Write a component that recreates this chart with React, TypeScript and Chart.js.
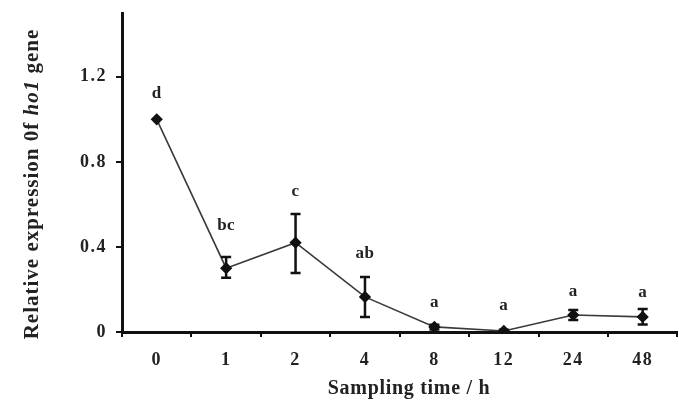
import React, { useEffect, useRef } from "react";
import { Chart, registerables } from "chart.js";
Chart.register(...registerables);

const categories = ["0", "1", "2", "4", "8", "12", "24", "48"];
const means = [1.0, 0.3, 0.42, 0.165, 0.024, 0.005, 0.08, 0.071];
const errLow = [1.0, 0.255, 0.278, 0.07, 0.012, 0.0, 0.056, 0.035];
const errHigh = [1.0, 0.353, 0.555, 0.259, 0.034, 0.01, 0.104, 0.108];
const letters = ["d", "bc", "c", "ab", "a", "a", "a", "a"];
const letterY = [1.12, 0.5, 0.66, 0.37, 0.137, 0.123, 0.19, 0.183];
const yTicks = [0, 0.4, 0.8, 1.2];
const yTitleParts = ["Relative expression 0f ", "ho1", " gene"];
const xTitle = "Sampling time / h";

const FONT = '"Liberation Serif", "Times New Roman", serif';

export default function App() {
  const ref = useRef<HTMLCanvasElement | null>(null);
  useEffect(() => {
    const canvas = ref.current!;
    const annot = {
      id: "annot",
      beforeDraw(chart: any) {
        (chart.ctx as any).letterSpacing = "1.5px";
      },
      afterDatasetsDraw(chart: any) {
        const ctx = chart.ctx;
        const xs = chart.scales.x;
        const ys = chart.scales.y;
        ctx.save();
        ctx.strokeStyle = "#111";
        ctx.lineWidth = 2.5;
        for (let i = 0; i < categories.length; i++) {
          if (errHigh[i] - errLow[i] <= 0) continue;
          const x = xs.getPixelForValue(i);
          const yl = ys.getPixelForValue(errLow[i]);
          const yh = ys.getPixelForValue(errHigh[i]);
          ctx.beginPath();
          ctx.moveTo(x, yl);
          ctx.lineTo(x, yh);
          ctx.moveTo(x - 5, yl);
          ctx.lineTo(x + 5, yl);
          ctx.moveTo(x - 5, yh);
          ctx.lineTo(x + 5, yh);
          ctx.stroke();
        }
        ctx.fillStyle = "#222";
        ctx.font = `bold 17px ${FONT}`;
        (ctx as any).letterSpacing = "0.5px";
        ctx.textAlign = "center";
        ctx.textBaseline = "middle";
        for (let i = 0; i < categories.length; i++) {
          ctx.fillText(letters[i], xs.getPixelForValue(i), ys.getPixelForValue(letterY[i]));
        }
        // x title
        ctx.font = `bold 20px ${FONT}`;
        (ctx as any).letterSpacing = "0.7px";
        ctx.fillText(xTitle, 409, 389);
        // y title with italic part
        (ctx as any).letterSpacing = "1px";
        ctx.translate(33, 184);
        ctx.rotate(-Math.PI / 2);
        const fonts = [`bold 21px ${FONT}`, `italic bold 21px ${FONT}`, `bold 21px ${FONT}`];
        let total = 0;
        const widths = yTitleParts.map((p, k) => {
          ctx.font = fonts[k];
          const w = ctx.measureText(p).width;
          total += w;
          return w;
        });
        let cx = -total / 2;
        ctx.textAlign = "left";
        yTitleParts.forEach((p, k) => {
          ctx.font = fonts[k];
          ctx.fillText(p, cx, 0);
          cx += widths[k];
        });
        ctx.restore();
      },
    };
    const chart = new Chart(canvas, {
      type: "line",
      data: {
        labels: categories,
        datasets: [
          {
            data: means,
            borderColor: "#3a3a3a",
            borderWidth: 1.6,
            pointStyle: "rectRot",
            pointRadius: 5,
            pointBackgroundColor: "#111",
            pointBorderColor: "#111",
            tension: 0,
          },
        ],
      },
      options: {
        responsive: false,
        animation: false,
        layout: { padding: { top: 13, left: 0, right: 0, bottom: 0 } },
        plugins: { legend: { display: false }, tooltip: { enabled: false } },
        scales: {
          x: {
            type: "category",
            offset: true,
            grid: { offset: true, drawOnChartArea: false, tickLength: 5, lineWidth: 2, color: "#111" },
            border: { display: true, color: "#111", width: 3 },
            ticks: { padding: 13, color: "#222", font: { family: FONT, size: 18, weight: "bold" } },
            afterFit(scale: any) {
              scale.height = 69;
              scale.paddingLeft = 0;
              scale.paddingRight = 0;
            },
          },
          y: {
            min: 0,
            max: 1.5,
            afterBuildTicks(scale: any) {
              scale.ticks = yTicks.map((v) => ({ value: v }));
            },
            grid: { drawOnChartArea: false, tickLength: 6, lineWidth: 2, color: "#111" },
            border: { display: true, color: "#111", width: 3 },
            ticks: {
              padding: 9,
              color: "#222",
              font: { family: FONT, size: 18, weight: "bold" },
              callback: (v: any) => (Number(v) === 0 ? "0" : Number(v).toFixed(1)),
            },
            afterFit(scale: any) {
              scale.width = 122;
              scale.paddingTop = 0;
              scale.paddingBottom = 0;
            },
          },
        },
      },
      plugins: [annot],
    } as any);
    return () => chart.destroy();
  }, []);
  return (
    <div style={{ position: "fixed", left: 0, top: 0, width: 679, height: 401, overflow: "hidden", background: "#fff" }}>
      <canvas ref={ref} width={684} height={401} style={{ display: "block" }} />
    </div>
  );
}
